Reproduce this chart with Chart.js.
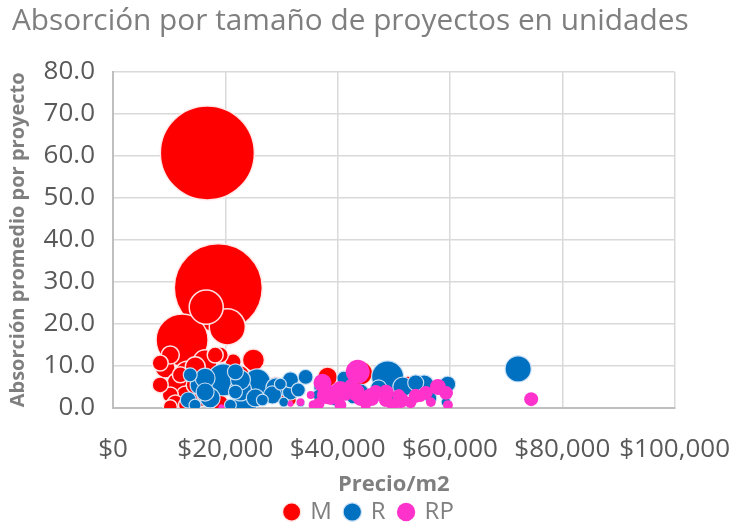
<!DOCTYPE html>
<html><head><meta charset="utf-8">
<script src="https://cdn.jsdelivr.net/npm/chart.js@4/dist/chart.umd.min.js"></script>
<style>html,body{margin:0;padding:0;background:#fff}</style>
</head><body>
<canvas id="c" width="742" height="525"></canvas>
<script>
// ---- data ----
const seriesNames = ['M', 'R', 'RP'];
const xTicks = [0, 20000, 40000, 60000, 80000, 100000];
const yTicks = [0, 10, 20, 30, 40, 50, 60, 70, 80];

// M: price per m2, average absorption, project size (units)
const mPrice = [16800, 18750, 12300, 20350, 16600, 13200, 16400, 44100, 25000, 9300, 14650, 11400, 38200, 15500, 10200, 12900, 22700, 14650, 21400, 19100, 8400, 10200, 11100, 28900, 22700, 8400, 18200, 16400, 19100, 26250, 12000, 29300, 12900, 10200, 31600, 52500];
const mAbs   = [60.7, 28.6, 16.2, 19.3, 24.0, 8.3, 11.0, 8.3, 11.4, 9.5, 9.8, 6.0, 7.4, 2.4, 12.6, 3.1, 7.9, 5.5, 11.0, 12.6, 10.7, 3.1, 1.2, 5.5, 3.1, 5.5, 12.6, 3.1, 1.2, 3.1, 7.9, 3.1, 0.7, 0.3, 1.9, 6.7];
const mSize  = [1000, 876, 306, 147, 131, 65, 65, 65, 55, 45, 45, 45, 45, 37, 37, 37, 37, 37, 29, 29, 29, 29, 29, 29, 29, 29, 29, 29, 29, 29, 29, 22, 22, 22, 16, 7];

// R
const rPrice = [19640, 48900, 72140, 25700, 23600, 22700, 15500, 17300, 55400, 22700, 51600, 29000, 16400, 28400, 16400, 25350, 53900, 31600, 59600, 13400, 44100, 47300, 21800, 31600, 34300, 41100, 21800, 13750, 33000, 37000, 50400, 14600, 20900, 26600, 29800, 36600, 42700, 39600, 56600, 46300, 30400, 59300, 33400];
const rAbs   = [6.7, 7.4, 9.3, 6.2, 1.2, 4.3, 5.5, 2.4, 5.5, 6.7, 5.0, 4.8, 7.1, 3.1, 3.8, 2.4, 6.0, 3.8, 5.7, 1.9, 3.8, 4.8, 8.6, 6.7, 7.4, 7.1, 3.8, 7.9, 4.3, 4.8, 2.4, 0.7, 0.7, 1.9, 5.7, 3.1, 2.4, 1.9, 2.4, 1.9, 1.4, 1.4, 1.2];
const rSize  = [116, 116, 77, 77, 65, 55, 45, 45, 45, 45, 45, 45, 45, 37, 37, 37, 29, 29, 29, 29, 29, 29, 29, 29, 25, 22, 22, 22, 22, 22, 22, 16, 16, 16, 16, 16, 16, 16, 16, 11, 11, 11, 7];

// RP
const pPrice = [43570, 38750, 37300, 37900, 40500, 43200, 45900, 41400, 44100, 57860, 48600, 51200, 46800, 48600, 59300, 74460, 53900, 55700, 50900, 53000, 40500, 49800, 42300, 36600, 35700, 45000, 54800, 56600, 59640, 33400, 35200, 31600, 19300];
const pAbs   = [8.6, 3.1, 6.0, 3.1, 4.3, 3.8, 2.6, 3.6, 2.4, 5.0, 3.6, 1.9, 3.8, 1.9, 3.6, 2.1, 2.9, 3.6, 3.1, 1.4, 0.7, 0.7, 5.5, 1.0, 0.7, 0.5, 2.6, 1.4, 0.7, 1.4, 3.1, 1.0, 0.2];
const pSize  = [65, 45, 37, 37, 37, 37, 37, 29, 29, 29, 29, 29, 22, 22, 22, 22, 22, 22, 16, 16, 16, 16, 16, 16, 11, 11, 11, 11, 11, 7, 7, 4, 4];

// ---- chart ----
const MAX_SIZE = 1000, MAX_R = 47;
function toPoints(px, py, ps) {
  return px.map((x, i) => ({ x: x, y: py[i], s: ps[i], r: MAX_R * Math.sqrt(ps[i] / MAX_SIZE) }))
           .sort((a, b) => b.s - a.s); // larger bubbles drawn first
}
const FONT = 'Open Sans';
Chart.defaults.font.family = FONT;

new Chart(document.getElementById('c'), {
  type: 'bubble',
  data: {
    datasets: [
      { label: seriesNames[0], data: toPoints(mPrice, mAbs, mSize), backgroundColor: '#ff0000', borderColor: 'rgba(255,235,235,0.95)', borderWidth: 1.5, clip: 0, order: 3 },
      { label: seriesNames[1], data: toPoints(rPrice, rAbs, rSize), backgroundColor: '#0070c0', borderColor: 'rgba(205,225,245,0.95)', borderWidth: 1.2, clip: 0, order: 2 },
      { label: seriesNames[2], data: toPoints(pPrice, pAbs, pSize), backgroundColor: '#ff33cc', borderColor: '#ff33cc', borderWidth: 0, clip: 0, order: 1 }
    ]
  },
  options: {
    responsive: false,
    animation: false,
    events: [],
    layout: { padding: { left: 12, right: 15, top: 0, bottom: -9 } },
    plugins: {
      title: {
        display: true,
        text: 'Absorción por tamaño de proyectos en unidades',
        align: 'start',
        color: '#7f7f7f',
        font: { family: FONT, size: 29.8, weight: 'normal' },
        padding: { top: 4, bottom: 32 }
      },
      legend: {
        position: 'bottom',
        labels: {
          usePointStyle: true, pointStyle: 'circle', boxWidth: 13, boxHeight: 13,
          color: '#7f7f7f', font: { family: FONT, size: 24 }, padding: 14,
          sort: (a, b) => a.datasetIndex - b.datasetIndex
        }
      },
      tooltip: { enabled: false }
    },
    scales: {
      x: {
        type: 'linear', min: 0, max: 100000,
        afterBuildTicks: s => { s.ticks = xTicks.map(v => ({ value: v })); },
        afterFit: s => { s.height = 78; },
        ticks: { color: '#595959', font: { size: 26, lineHeight: 2.3 }, padding: 12, maxRotation: 0, minRotation: 0, autoSkip: false,
          callback: v => '$' + Number(v).toLocaleString('en-US') },
        grid: { color: '#d9d9d9', lineWidth: 1.5, drawTicks: false },
        border: { color: '#bfbfbf', width: 2 },
        title: { display: true, text: 'Precio/m2', color: '#7f7f7f', font: { size: 22, weight: 'bold' }, padding: { top: 0, bottom: -12 } }
      },
      y: {
        type: 'linear', min: 0, max: 80,
        afterBuildTicks: s => { s.ticks = yTicks.map(v => ({ value: v })); },
        afterFit: s => { s.width = 101; },
        ticks: { color: '#595959', font: { size: 26 }, padding: 18,
          callback: v => Number(v).toFixed(1) },
        grid: { color: '#d9d9d9', lineWidth: 1.5, drawTicks: false },
        border: { color: '#bfbfbf', width: 2 },
        title: { display: true, text: 'Absorción promedio por proyecto', color: '#7f7f7f', font: { size: 20, weight: 'bold' }, padding: { top: -6, bottom: 0 } }
      }
    }
  }
});
</script>
</body></html>
